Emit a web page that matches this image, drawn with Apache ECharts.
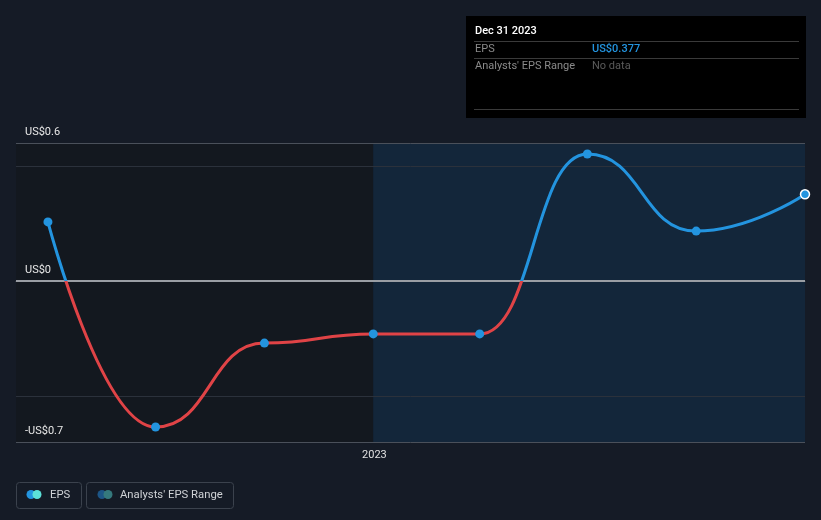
<!DOCTYPE html>
<html>
<head>
<meta charset="utf-8">
<script src="https://cdn.jsdelivr.net/npm/echarts@6/dist/echarts.min.js"></script>
<style>
html,body{margin:0;padding:0;background:#151b26;}
#c{width:821px;height:520px;}
</style>
</head>
<body>
<div id="c"></div>
<script>
// ---- data ----
var dates = ['2022-03-31','2022-06-30','2022-09-30','2022-12-31','2023-03-31','2023-06-30','2023-09-30','2023-12-31'];
var eps = [0.257, -0.635, -0.27, -0.23, -0.23, 0.552, 0.217, 0.377];
var yLabelValues = [0.6, 0, -0.7];
var gridValues = [0.5, -0.5];
var xLabelDates = ['2023-01-01'];
var axisMinDate = '2022-03-04';
var axisMaxDate = '2023-12-31';
var pastEnd = '2022-12-31';
var tooltipTitle = 'Dec 31 2023';
var tooltipEps = 'US$0.377';

function ts(d){ return new Date(d + 'T00:00:00Z').getTime(); }
var seriesData = dates.map(function(d,i){ return [ts(d), eps[i]]; });
var FONT = 'Roboto, "Noto Sans", sans-serif';
var BLUE = '#2394df', RED = '#e04346';

function yFmt(v){
  if (v === 0) return 'US$0';
  return (v < 0 ? '-' : '') + 'US$' + Math.abs(v).toFixed(1);
}
var lineColorFor = {'0.6': '#4a505a', '0': '#9a9ea4', '-0.7': '#4a505a'};
var lineWidthFor = {'0.6': 1, '0': 2, '-0.7': 1};

var chart = echarts.init(document.getElementById('c'), null, {renderer:'canvas'});
var option = {
  backgroundColor: '#151b26',
  animation: false,
  textStyle: {fontFamily: FONT},
  grid: {left: 16, right: 16, top: 143, bottom: 78, containLabel: false},
  xAxis: {
    type: 'value',
    min: ts(axisMinDate),
    max: ts(axisMaxDate),
    axisLine: {show: true, lineStyle: {color: '#4a505a', width: 1}},
    axisTick: {show: true, customValues: xLabelDates.map(ts), length: 5, lineStyle: {color: '#4a505a'}},
    axisLabel: {
      customValues: xLabelDates.map(ts),
      formatter: function(v){ return String(new Date(v).getUTCFullYear()); },
      color: '#e0e0e0', fontSize: 11, fontFamily: FONT, margin: 8
    },
    splitLine: {show: false}
  },
  yAxis: {
    type: 'value',
    min: -0.7,
    max: 0.6,
    axisLine: {show: false},
    axisTick: {show: false},
    splitLine: {show: false},
    axisLabel: {show: false}
  },
  series: [
    {
      type: 'line',
      data: seriesData,
      smooth: true,
      smoothMonotone: 'x',
      showSymbol: false,
      lineStyle: {width: 3, color: BLUE},
      z: 5,
      markArea: {
        silent: true,
        data: [
          [{xAxis: ts(axisMinDate), itemStyle: {color: '#13181f'}}, {xAxis: ts(pastEnd)}],
          [{xAxis: ts(pastEnd), itemStyle: {color: '#13263a'},
            label: {show: true, position: 'insideTopRight', formatter: 'Actual', color: '#e8e8e8', fontSize: 11, fontFamily: FONT, distance: [8, 6]}},
           {xAxis: ts(axisMaxDate)}]
        ]
      }
    },
    {
      type: 'scatter',
      data: seriesData.map(function(p,i){
        var it = {value: p};
        if (i === seriesData.length - 1) it.itemStyle = {borderColor: '#ffffff', borderWidth: 1.5};
        return it;
      }),
      symbolSize: 9,
      itemStyle: {color: BLUE, opacity: 1},
      z: 6,
      markLine: {
        silent: true,
        symbol: 'none',
        data: gridValues.map(function(v){ return {yAxis: v, label: {show: false}, lineStyle: {color: '#2b313b', width: 1, type: 'solid'}}; })
          .concat(yLabelValues.map(function(v){
            return {
              yAxis: v,
              lineStyle: {color: lineColorFor[String(v)], width: lineWidthFor[String(v)], type: 'solid'},
              label: {show: true, position: 'insideStartTop', formatter: yFmt(v), color: '#e8e8e8', fontSize: 11, fontFamily: FONT, distance: [9, 5]}
            };
          }))
      }
    }
  ],
  graphic: [
    {type: 'rect', shape: {x: 466, y: 16, width: 340, height: 102}, style: {fill: '#000000'}, z: 100},
    {type: 'text', x: 475, y: 31, style: {text: tooltipTitle, fill: '#ffffff', font: '500 11px ' + FONT, textVerticalAlign: 'middle'}, z: 101},
    {type: 'line', shape: {x1: 474, y1: 41.5, x2: 799, y2: 41.5}, style: {stroke: '#3a3a3a', lineWidth: 1}, z: 101},
    {type: 'text', x: 475, y: 49, style: {text: 'EPS', fill: '#8a8a8a', font: '11px ' + FONT, textVerticalAlign: 'middle'}, z: 101},
    {type: 'text', x: 592, y: 49, style: {text: tooltipEps, fill: BLUE, font: '500 11px ' + FONT, textVerticalAlign: 'middle'}, z: 101},
    {type: 'line', shape: {x1: 474, y1: 58.5, x2: 799, y2: 58.5}, style: {stroke: '#3a3a3a', lineWidth: 1}, z: 101},
    {type: 'text', x: 475, y: 66, style: {text: "Analysts' EPS Range", fill: '#8a8a8a', font: '11px ' + FONT, textVerticalAlign: 'middle'}, z: 101},
    {type: 'text', x: 592, y: 66, style: {text: 'No data', fill: '#5a5a5a', font: '11px ' + FONT, textVerticalAlign: 'middle'}, z: 101},
    {type: 'line', shape: {x1: 474, y1: 109.5, x2: 799, y2: 109.5}, style: {stroke: '#3a3a3a', lineWidth: 1}, z: 101},

    {type: 'rect', shape: {x: 16.5, y: 482.5, width: 65, height: 26, r: 3}, style: {fill: 'none', stroke: '#3b424d', lineWidth: 1}, z: 100},
    {type: 'circle', shape: {cx: 31, cy: 494.5, r: 4.5}, style: {fill: BLUE}, z: 101},
    {type: 'circle', shape: {cx: 37, cy: 494.5, r: 4.5}, style: {fill: '#5ce0d8'}, z: 102},
    {type: 'text', x: 50, y: 495, style: {text: 'EPS', fill: '#cfd2d6', font: '11.3px ' + FONT, textVerticalAlign: 'middle'}, z: 101},
    {type: 'rect', shape: {x: 86.5, y: 482.5, width: 147, height: 26, r: 3}, style: {fill: 'none', stroke: '#3b424d', lineWidth: 1}, z: 100},
    {type: 'circle', shape: {cx: 102, cy: 494.5, r: 4.5}, style: {fill: '#1d5687'}, z: 101},
    {type: 'circle', shape: {cx: 108, cy: 494.5, r: 4.5}, style: {fill: '#35797d'}, z: 102},
    {type: 'text', x: 120, y: 495, style: {text: "Analysts' EPS Range", fill: '#cfd2d6', font: '11.3px ' + FONT, textVerticalAlign: 'middle'}, z: 101}
  ]
};
chart.setOption(option);

// colour the line red below zero / blue above, using the axis scale for the split position
var yTop = chart.convertToPixel({yAxisIndex: 0}, 0.6);
var yBot = chart.convertToPixel({yAxisIndex: 0}, -0.7);
var yZero = chart.convertToPixel({yAxisIndex: 0}, 0);
var f = (yZero - yTop) / (yBot - yTop);
chart.setOption({
  series: [{
    lineStyle: {
      color: new echarts.graphic.LinearGradient(0, yTop, 0, yBot, [
        {offset: 0, color: BLUE}, {offset: f, color: BLUE},
        {offset: f, color: RED}, {offset: 1, color: RED}
      ], true)
    }
  }]
});
</script>
</body>
</html>
